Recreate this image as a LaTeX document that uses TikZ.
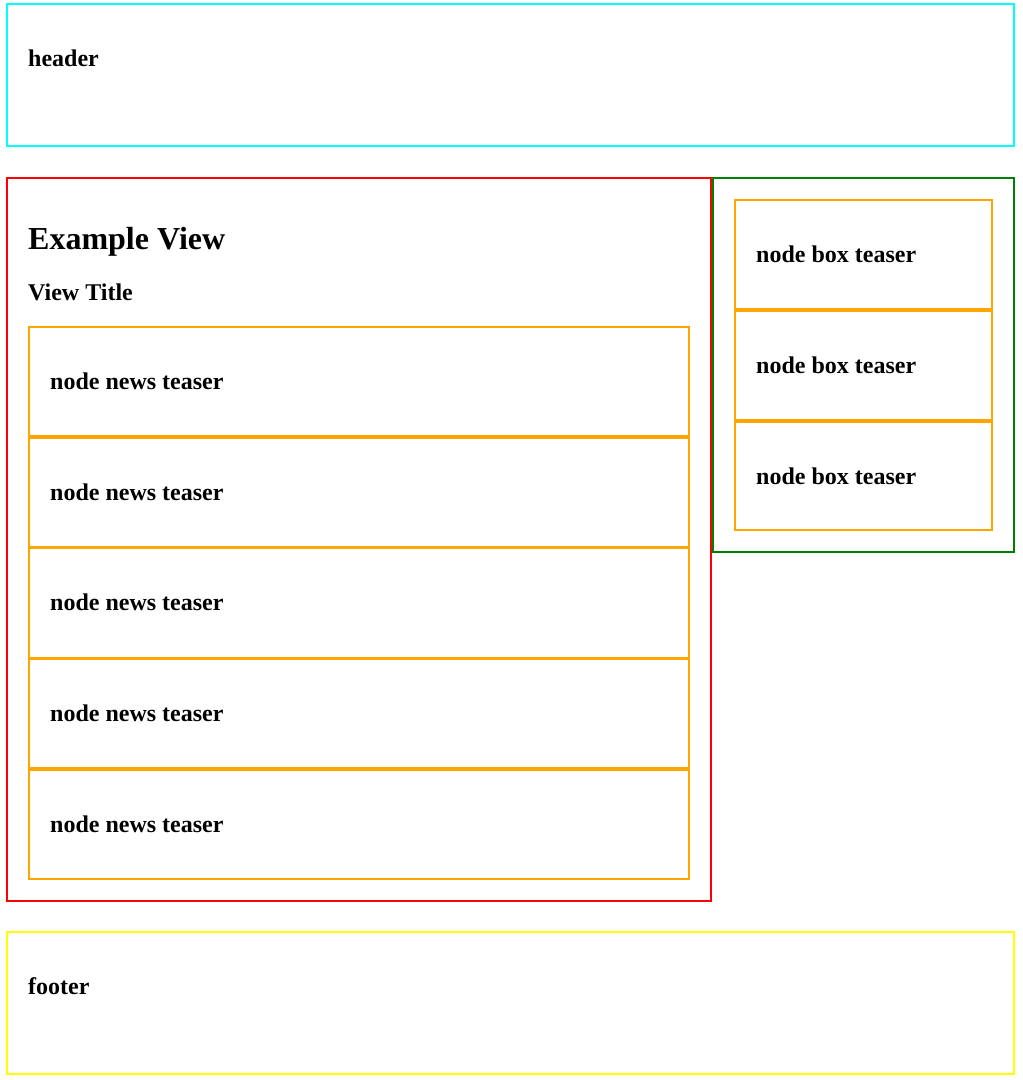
\documentclass[tikz,border=0pt]{standalone}
\usepackage{fontspec}
\setmainfont{Liberation Serif}
\begin{document}
\begin{tikzpicture}[x=1pt,y=-1pt,
  frame/.style={draw=#1,line width=2pt},
  lbl/.style={anchor=base west,inner sep=0pt,font=\fontsize{24}{28}\selectfont\bfseries},
  big/.style={anchor=base west,inner sep=0pt,font=\fontsize{32}{38}\selectfont\bfseries}]
\definecolor{cy}{HTML}{00FFFF}
\definecolor{rd}{HTML}{FF0000}
\definecolor{gr}{HTML}{008000}
\definecolor{orng}{HTML}{FFA500}
\definecolor{yl}{HTML}{FFFF00}
\useasboundingbox (0,0) rectangle (1023,1080);
% header
\draw[frame=cy] (7,4) rectangle (1014,146);
\node[lbl] (hdr) at (28,66) {header};
% main
\draw[frame=rd] (7,178) rectangle (711,901);
\node[big] (ev) at (28,249) {Example View};
\node[lbl] (vt) at (28,300) {View Title};
\foreach \i/\t/\b in {0/327/436,1/437.8/546.8,2/548.4/657.6,3/659.2/768.4,4/770/879}{
  \draw[frame=orng] (29,\t) rectangle (689,\b);
  \node[lbl] (news\i) at (50,\t+62.5) {node news teaser};
}
% sidebar
\draw[frame=gr] (713,178) rectangle (1014,552);
\foreach \i/\t/\b in {0/200/309,1/310.8/419.8,2/421.6/530}{
  \draw[frame=orng] (735,\t) rectangle (992,\b);
  \node[lbl] (box\i) at (756,\t+62.5) {node box teaser};
}
% footer
\draw[frame=yl] (7,932) rectangle (1014,1074);
\node[lbl] (ftr) at (28,994) {footer};
\end{tikzpicture}
\end{document}
